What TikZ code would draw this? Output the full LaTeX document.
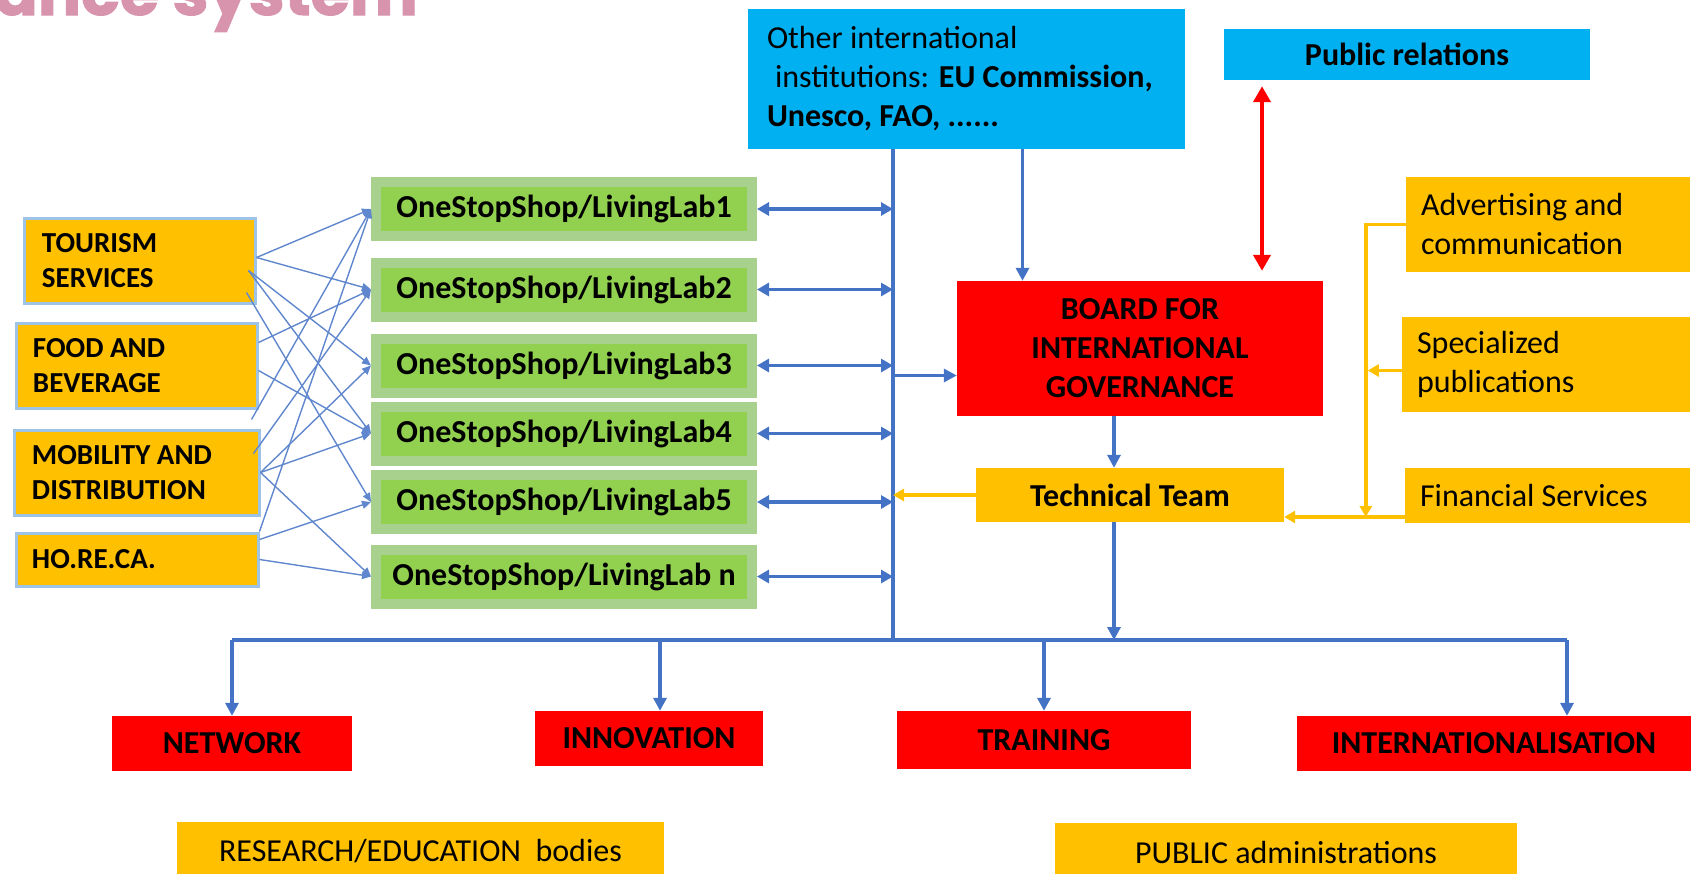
\documentclass[tikz,border=0pt]{standalone}
\usepackage{fontspec}
\setmainfont{Carlito}
\newfontfamily\titlefont{Poppins}[BoldFeatures={FakeBold=1.6}]
\usetikzlibrary{arrows.meta,positioning}

\definecolor{cOrange}{HTML}{FFC000}
\definecolor{cGlow}{HTML}{9DC3E6}
\definecolor{cGreenIn}{HTML}{92D050}
\definecolor{cGreenOut}{HTML}{A9D18E}
\definecolor{cCyan}{HTML}{00B0F0}
\definecolor{cRed}{HTML}{FF0000}
\definecolor{cLink}{HTML}{4472C4}
\definecolor{cPink}{HTML}{D794AC}

\tikzset{
  block/.style={rectangle, inner sep=0pt, text=black, font=\fontsize{32bp}{39bp}\selectfont},
  boldblock/.style={block, font=\fontsize{32bp}{39bp}\selectfont\bfseries},
  catbox/.style={rectangle, inner sep=0pt, text=black, fill=cOrange, draw=cGlow, line width=3bp,
    align=flush left, minimum height=85bp, font=\fontsize{29bp}{35bp}\selectfont\bfseries},
  labbox/.style={boldblock, fill=cGreenIn, draw=cGreenOut, line width=10bp,
    minimum width=376bp, minimum height=54bp},
  goalbox/.style={boldblock, fill=cRed, minimum height=55bp},
  servbox/.style={block, fill=cOrange, align=flush left},
  mainline/.style={draw=cLink, line width=3.5bp},
  mainarrow/.style={mainline, -{Triangle[length=13bp,width=13bp]}},
  twoway/.style={mainline, {Triangle[length=12bp,width=13bp]}-{Triangle[length=12bp,width=13bp]}},
  crosslink/.style={draw=cLink!85, line width=1.4bp, -{Triangle[length=9bp,width=8bp]}},
  redlink/.style={draw=cRed, line width=4bp, {Triangle[length=16bp,width=17bp]}-{Triangle[length=16bp,width=17bp]}},
  orline/.style={draw=cOrange, line width=3.5bp},
  orarrow/.style={orline, -{Triangle[length=11bp,width=12bp]}}
}

\begin{document}
\begin{tikzpicture}[x=1bp,y=-1bp]
\useasboundingbox (0,0) rectangle (1696,873);

% title, cut at the top edge
\node[anchor=base east, inner sep=0pt, text=cPink,
  font=\titlefont\bfseries\fontsize{64bp}{64bp}\selectfont] (title) at (418,15) {ance system};

% top row
\node[block, fill=cCyan, minimum width=437bp, minimum height=140bp, text width=399bp, align=flush left] (inst) at (966.5,79)
  {Other international\\\hspace*{.25em}institutions: \textbf{EU Commission,}\\\textbf{Unesco, FAO, ......}};
\node[boldblock, fill=cCyan, minimum width=366bp, minimum height=51bp] (pr) at (1407,54.5) {Public relations};

% governance
\node[boldblock, fill=cRed, minimum width=366bp, minimum height=135bp, align=flush center] (board) at (1140,348.5)
  {BOARD FOR\\INTERNATIONAL\\GOVERNANCE};
\node[boldblock, fill=cOrange, minimum width=308bp, minimum height=54bp] (team) at (1130,495) {Technical Team};

% services on the right
\node[servbox, minimum width=284bp, minimum height=95bp, text width=254bp] (adv) at (1548,224.5) {Advertising and\\communication};
\node[servbox, minimum width=288bp, minimum height=95bp, text width=258bp] (spec) at (1546,364.5) {Specialized\\publications};
\node[servbox, minimum width=285bp, minimum height=55bp, text width=255bp] (fin) at (1547.5,495.5) {Financial Services};

% sectors on the left
\node[catbox, minimum width=230bp, text width=196bp] (tour) at (140,260.5) {TOURISM\\SERVICES};
\node[catbox, minimum width=240bp, text width=208bp] (food) at (137,365.5) {FOOD AND\\BEVERAGE};
\node[catbox, minimum width=244bp, text width=210bp] (mob) at (137,472.5) {MOBILITY AND\\DISTRIBUTION};
\node[catbox, minimum width=241bp, minimum height=53bp, text width=211bp] (horeca) at (137.5,559.5) {HO.RE.CA.};

% one stop shops
\foreach \i/\y/\lab in {1/209/1, 2/289.5/2, 3/365.5/3, 4/433.5/4, 5/502/5, n/576.5/{~n}}
  \node[labbox] (ll\i) at (564,\y) {OneStopShop/LivingLab\lab};

% goals
\node[goalbox, minimum width=240bp] (net) at (232,743.5) {NETWORK};
\node[goalbox, minimum width=228bp] (inno) at (649,738.5) {INNOVATION};
\node[goalbox, minimum width=294bp, minimum height=58bp] (train) at (1044,740) {TRAINING};
\node[goalbox, minimum width=394bp] (intl) at (1494,743.5) {INTERNATIONALISATION};

% bodies, cut at the bottom edge
\node[block, fill=cOrange, minimum width=487bp, minimum height=59bp] (res) at (420.5,851) {RESEARCH/EDUCATION\ \ bodies};
\node[block, fill=cOrange, minimum width=462bp, minimum height=59bp] (pub) at (1286,852.5) {PUBLIC administrations};

% main bus
\coordinate (hub) at (893,640);
\draw[mainline] (inst.south -| hub) -- (hub);
\coordinate (dNet) at (232,640);
\coordinate (dInno) at (660,640);
\coordinate (dTrain) at (1044,640);
\coordinate (dIntl) at (1567,640);
\draw[mainline] (dNet) -- (dIntl);
\foreach \b/\n in {dNet/net, dInno/inno, dTrain/train, dIntl/intl}
  \draw[mainarrow] (\b) -- (\b |- \n.north);

\foreach \i in {1,2,3,4,5,n}
  \draw[twoway] (ll\i.east) -- (ll\i.east -| hub);

% governance links
\coordinate (instFoot) at ([xshift=56bp]inst.south);
\draw[mainarrow] (instFoot) -- (instFoot |- board.north);
\coordinate (boardIn) at ([yshift=-27bp]board.west);
\draw[mainarrow] (boardIn -| hub) -- (boardIn);
\coordinate (boardOut) at ([xshift=-26bp]board.south);
\draw[mainarrow] (boardOut) -- (boardOut |- team.north);
\coordinate (teamOut) at ([xshift=-16bp]team.south);
\draw[mainarrow] (teamOut) -- (teamOut |- hub);
\coordinate (prFoot) at ([xshift=-145bp]pr.south);
\draw[redlink, shorten <=6bp, shorten >=10bp] (prFoot) -- (prFoot |- board.north);

% services feed the technical team
\draw[orarrow] (team.west) -- (team.west -| hub);
\coordinate (advOut) at ([xshift=-40bp]adv.west);
\coordinate (finOut) at ([yshift=-21.5bp]fin.west);
\coordinate (specOut) at ([yshift=-6bp]spec.west);
\draw[orarrow] (adv.west) -- (advOut) -- (advOut |- finOut);
\draw[orarrow, shorten >=2bp] (specOut) -- (specOut -| advOut);
\draw[orarrow] (finOut) -- (finOut -| team.east);

% sectors to shops
\coordinate (t1) at ([yshift=3bp]tour.east);
\coordinate (t2) at ([shift={(-8bp,-10bp)}]tour.east);
\coordinate (t3) at ([shift={(-10bp,-32bp)}]tour.east);
\coordinate (f1) at ([yshift=23bp]food.east);
\coordinate (f2) at ([yshift=-5bp]food.east);
\coordinate (f3) at ([shift={(-7bp,-10bp)}]food.south east);
\coordinate (m1) at ([shift={(-7bp,19bp)}]mob.east);
\coordinate (m2) at (mob.east);
\coordinate (h1) at (horeca.north east);
\coordinate (h2) at ([yshift=20bp]horeca.east);
\coordinate (h3) at (horeca.east);
\foreach \src/\dst in {t1/ll1, t1/ll2, t2/ll3, t2/ll4, t3/ll5, f1/ll2, f2/ll4, f3/ll1,
    m1/ll2, m2/ll3, m2/ll4, m2/lln, h1/ll1, h2/ll5, h3/lln}
  \draw[crosslink] (\src) -- (\dst.west);
\end{tikzpicture}
\end{document}
